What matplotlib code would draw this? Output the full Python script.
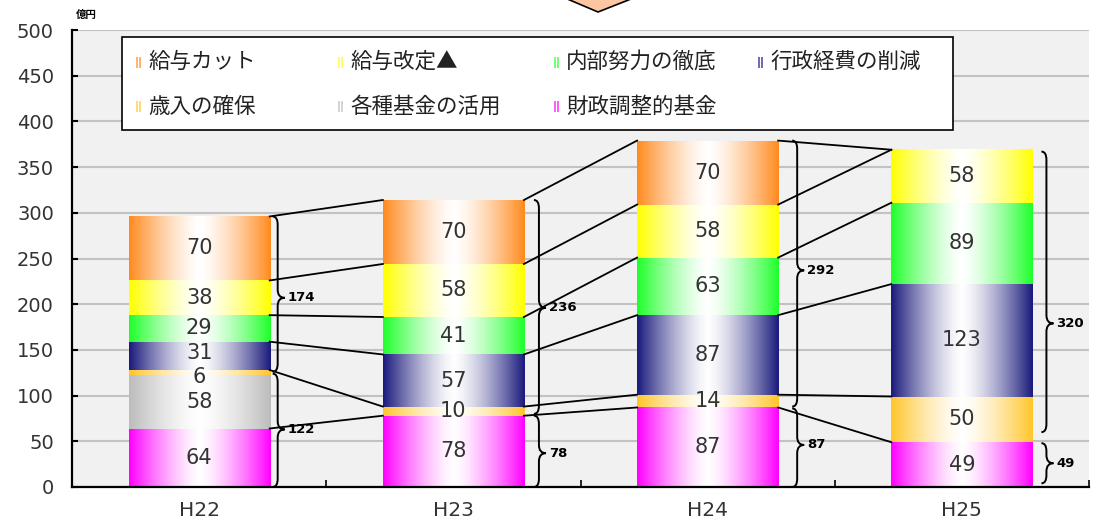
import numpy as np
import matplotlib
matplotlib.use('Agg')
import matplotlib.pyplot as plt
from matplotlib.colors import LinearSegmentedColormap, to_rgb
from matplotlib.path import Path
from matplotlib.patches import PathPatch, Rectangle, Polygon

plt.rcParams['font.family'] = ['Noto Sans CJK JP', 'DejaVu Sans']

years = ['H22', 'H23', 'H24', 'H25']

# series, stacked from the bottom up
series = ['財政調整的基金', '各種基金の活用', '歳入の確保', '行政経費の削減',
          '内部努力の徹底', '給与改定▲', '給与カット']
zaisei = [64, 78, 87, 49]
kikin = [58, 0, 0, 0]
sainyu = [6, 10, 14, 50]
gyosei = [31, 57, 87, 123]
naibu = [29, 41, 63, 89]
kaitei = [38, 58, 58, 58]
cut = [70, 70, 70, 0]
colors = ['#ff00ff', '#bcbcbc', '#ffc52a', '#1a1a7c', '#1eff2a', '#ffff00', '#ff8a1e']

# legend order as shown (row by row)
legend_order = ['給与カット', '給与改定▲', '内部努力の徹底', '行政経費の削減',
                '歳入の確保', '各種基金の活用', '財政調整的基金']

# curly braces right of the bars: bar, low, high, tip, label
brace_bar = [0, 0, 1, 1, 2, 2, 3, 3]
brace_lo = [126, 0, 80, 0, 88, 0, 60, 4]
brace_hi = [296, 124, 314, 78, 379, 86, 367, 48]
brace_tip = [207, 63, 196, 37, 237, 46, 179, 26]
brace_txt = ['174', '122', '236', '78', '292', '87', '320', '49']

W, H = 1098, 524
fig = plt.figure(figsize=(W / 100, H / 100), dpi=100)
ax = fig.add_axes([72 / W, 37 / H, 1017 / W, 457 / H])
ax.set_facecolor('#f1f1f1')

x = np.arange(len(years))
w = 0.555
grad = np.linspace(0, 1, 256).reshape(1, -1)
data = [zaisei, kikin, sainyu, gyosei, naibu, kaitei, cut]


def edge_cmap(name, col):
    # full colour at both edges, white in the middle
    t = np.linspace(0, 1, 21)
    f = np.abs(2 * t - 1) ** 1.4
    rgb = np.array(to_rgb(col))
    stops = [(ti, tuple(1 - fi * (1 - rgb))) for ti, fi in zip(t, f)]
    return LinearSegmentedColormap.from_list(name, stops)


bottom = np.zeros(len(years))
tops = []
labels = {}
for vals, col, name in zip(data, colors, series):
    bars = ax.bar(x, vals, w, bottom=bottom, color='none', edgecolor='none', zorder=2)
    cmap = edge_cmap(name, col)
    for p in bars.patches:
        if p.get_height() > 0:
            ax.imshow(grad, extent=[p.get_x(), p.get_x() + p.get_width(),
                                    p.get_y(), p.get_y() + p.get_height()],
                      cmap=cmap, aspect='auto', zorder=2, interpolation='bilinear')
    labels[name] = ax.bar_label(bars, labels=[str(v) if v else '' for v in vals],
                                label_type='center', fontsize=15, color='#333333',
                                family='DejaVu Sans', zorder=6)
    bottom = bottom + np.array(vals)
    tops.append(bottom.copy())

# the thin 6 and the 31 above it sit tight in H22, nudge them apart a little
labels['歳入の確保'][0].xyann = (0, -3)
labels['行政経費の削減'][0].xyann = (0, 2)

# lines joining the segment tops of neighbouring bars
for idx, name in enumerate(series):
    if name == '各種基金の活用':
        continue
    for i in range(len(years) - 1):
        ax.plot([x[i] + w / 2, x[i + 1] - w / 2], [tops[idx][i], tops[idx][i + 1]],
                color='black', lw=1.3, zorder=3)

# braces
px = 1 / 254.25
gaps = [8, 15, 19, 14]
tipw = 7 * px
c = 5 * px
r = 9
for b, lo, hi, tip, txt in zip(brace_bar, brace_lo, brace_hi, brace_tip, brace_txt):
    x0 = x[b] + w / 2 + gaps[b] * px
    verts = [(x0 - c, hi), (x0, hi), (x0, hi - r),
             (x0, tip + r),
             (x0, tip), (x0 + tipw, tip),
             (x0, tip), (x0, tip - r),
             (x0, lo + r),
             (x0, lo), (x0 - c, lo)]
    codes = [Path.MOVETO, Path.CURVE3, Path.CURVE3,
             Path.LINETO,
             Path.CURVE3, Path.CURVE3,
             Path.CURVE3, Path.CURVE3,
             Path.LINETO,
             Path.CURVE3, Path.CURVE3]
    ax.add_patch(PathPatch(Path(verts, codes), fill=False, lw=1.4, color='black', zorder=4))
    ax.text(x0 + tipw + 3 * px, tip, txt, ha='left', va='center', fontsize=9.5,
            fontweight='bold', family='DejaVu Sans', zorder=6)

ax.set_xlim(-0.5, 3.5)
ax.set_ylim(0, 500)
ax.set_yticks(range(0, 501, 50))
ax.set_xticks(x)
ax.set_xticklabels(years)
ax.set_xticks([0.5, 1.5, 2.5, 3.5], minor=True)
ax.yaxis.grid(True, color='#c2c2c2', lw=1.5)
ax.set_axisbelow(True)
for s in ['top', 'right']:
    ax.spines[s].set_visible(False)
for s in ['left', 'bottom']:
    ax.spines[s].set_linewidth(1.6)
ax.tick_params(axis='y', direction='in', length=4, width=1.5, labelsize=14,
               pad=13, labelcolor='#333333')
ax.tick_params(axis='x', which='major', length=0, labelsize=14.5, pad=10,
               labelcolor='#333333')
ax.tick_params(axis='x', which='minor', direction='in', length=5, width=1.2)
for lab in ax.get_xticklabels() + ax.get_yticklabels():
    lab.set_family('DejaVu Sans')

fig.text(76 / W, 1 - 15 / H, '億円', fontsize=7.5, fontweight='bold', ha='left', va='center')

# arrow at the top
fig.patches.append(Polygon([(545 / W, 1.02), (598 / W, 1 - 12 / H), (655 / W, 1.02)],
                           closed=True, facecolor='#fdc6a0', edgecolor='black',
                           lw=1.2, transform=fig.transFigure, figure=fig))

# legend box
fig.patches.append(Rectangle((122 / W, 1 - 130 / H), (953 - 122) / W, 93 / H,
                             facecolor='white', edgecolor='black', lw=1.2,
                             transform=fig.transFigure, figure=fig, zorder=5))
col_x = [135, 337, 553, 757]
row_y = [62, 107]
for k, name in enumerate(legend_order):
    cx = col_x[k % 4]
    cy = row_y[k // 4]
    col = colors[series.index(name)]
    fig.text(cx / W, 1 - cy / H, '||', color=col, fontsize=8, fontweight='bold',
             ha='left', va='center', family='DejaVu Sans', zorder=6)
    fig.text((cx + 13) / W, 1 - cy / H, name, fontsize=15.5, ha='left', va='center',
             color='#222222', zorder=6)

fig.savefig('out.png', dpi=100)
